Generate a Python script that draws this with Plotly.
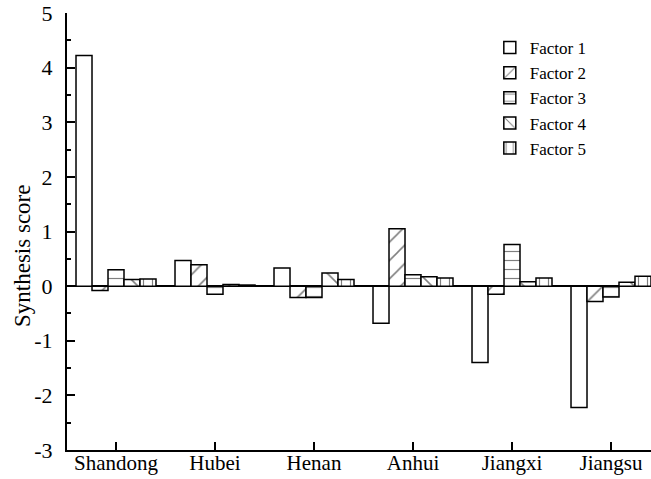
import plotly.graph_objects as go

provinces = ["Shandong", "Hubei", "Henan", "Anhui", "Jiangxi", "Jiangsu"]
factor_names = ["Factor 1", "Factor 2", "Factor 3", "Factor 4", "Factor 5"]
factor1 = [4.22, 0.47, 0.33, -0.68, -1.40, -2.22]
factor2 = [-0.08, 0.39, -0.21, 1.05, -0.15, -0.28]
factor3 = [0.30, -0.15, -0.21, 0.21, 0.76, -0.20]
factor4 = [0.12, 0.03, 0.24, 0.17, 0.08, 0.07]
factor5 = [0.13, 0.02, 0.12, 0.15, 0.15, 0.18]
series = [factor1, factor2, factor3, factor4, factor5]
y_tick_values = [-3, -2, -1, 0, 1, 2, 3, 4, 5]
y_tick_labels = ["-3", "-2", "-1", "0", "1", "2", "3", "4", "5"]

patterns = ["", "/", "-", "\\", "|"]
psizes = [8, 13, 9, 13, 9]
psolid = [0.1, 0.12, 0.13, 0.12, 0.13]

FONT = "Liberation Serif, Times New Roman, serif"

fig = go.Figure()
for name, vals, sh, ps, so in zip(factor_names, series, patterns, psizes, psolid):
    fig.add_trace(go.Bar(
        x=provinces, y=vals, name=name,
        marker=dict(color="white",
                    line=dict(color="black", width=1.5),
                    pattern=dict(shape=sh, fgcolor="black", bgcolor="white",
                                 size=ps, solidity=so, fillmode="overlay")),
    ))

fig.update_layout(
    width=651, height=479,
    margin=dict(l=67, r=0, t=13, b=29, autoexpand=False),
    paper_bgcolor="white", plot_bgcolor="white",
    barmode="group", bargap=0.192, bargroupgap=0,
    font=dict(family=FONT, size=22, color="black"),
    showlegend=True,
    legend=dict(x=0.724, y=0.961, xanchor="left", yanchor="top",
                bgcolor="rgba(0,0,0,0)", font=dict(family=FONT, size=17),
                tracegroupgap=0, itemwidth=30),
    xaxis=dict(type="category", categoryorder="array", categoryarray=provinces,
               range=[-0.495, 5.404],
               ticks="inside", ticklen=8, tickwidth=2, tickcolor="black",
               showline=True, linecolor="black", linewidth=2,
               showgrid=False, zeroline=False, automargin=False,
               ticklabelstandoff=-7,
               tickfont=dict(family=FONT, size=21)),
    yaxis=dict(range=[-3, 5], tickvals=y_tick_values, ticktext=y_tick_labels,
               ticks="inside", ticklen=8, tickwidth=2, tickcolor="black",
               minor=dict(dtick=0.5, ticks="inside", ticklen=4, tickwidth=2,
                          tickcolor="black"),
               showline=True, linecolor="black", linewidth=2,
               showgrid=False, zeroline=True, zerolinecolor="black",
               zerolinewidth=2, ticklabelstandoff=8, automargin=False,
               tickfont=dict(family=FONT, size=22)),
    annotations=[dict(text="Synthesis score", xref="paper", yref="paper",
                      x=-0.0753, y=0.444, xanchor="center", yanchor="middle",
                      textangle=-90, showarrow=False,
                      font=dict(family=FONT, size=23, color="black"))],
)

fig.write_html("out.html", config={"displayModeBar": False},
               post_script="document.body.style.margin='0';")
